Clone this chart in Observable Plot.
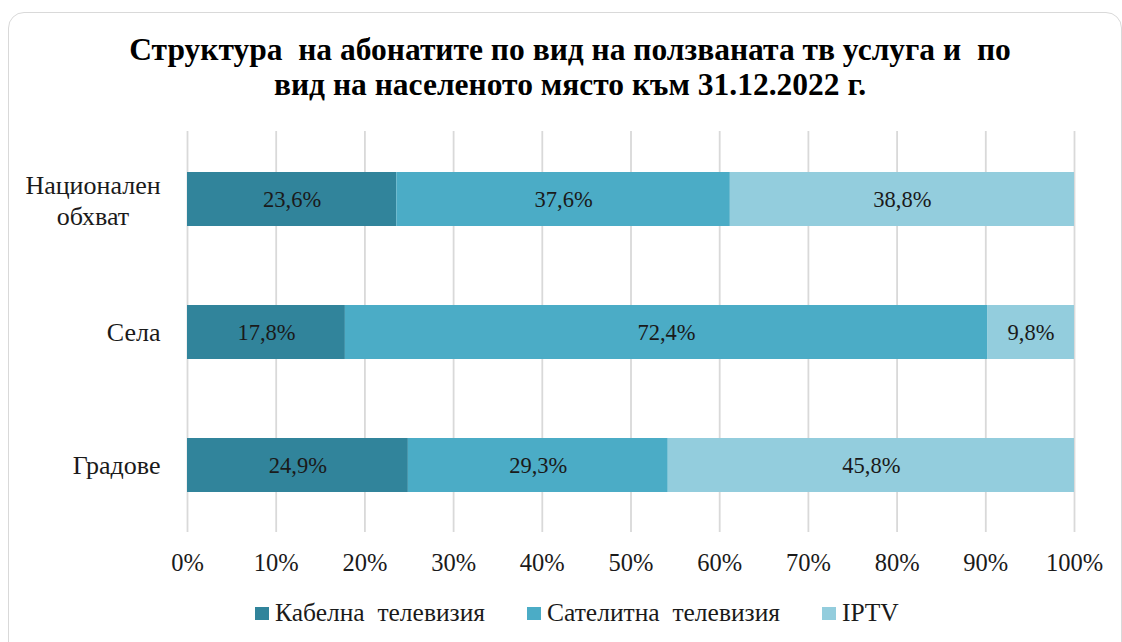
<!DOCTYPE html>
<html><head><meta charset="utf-8">
<script src="https://cdn.jsdelivr.net/npm/d3@7"></script>
<script src="https://cdn.jsdelivr.net/npm/@observablehq/plot@0.6"></script>
<style>
html,body{margin:0;padding:0;background:#fff;}
body{width:1122px;height:642px;overflow:hidden;position:relative;font-family:"Liberation Serif","Times New Roman",serif;color:#000;}
#frame{position:absolute;left:8px;top:12px;width:1114px;height:680px;border:1.5px solid #d9d9d9;border-radius:16px;box-sizing:border-box;}
#title{position:absolute;left:0;width:1140px;top:32px;text-align:center;font-weight:bold;font-size:31.5px;line-height:35px;white-space:pre;}
#chart{position:absolute;left:0;top:120px;}
#legend{position:absolute;top:598px;height:30px;left:255px;display:flex;align-items:center;font-size:25.5px;white-space:pre;color:#1a1a1a;}
.item{display:flex;align-items:center;margin-right:42px;}
.sw{width:14px;height:13px;margin-right:6px;}
</style></head>
<body>
<div id="frame"></div>
<div id="title"></div>
<div id="chart"></div>
<div id="legend"></div>
<script>
const titleLines = ["Структура  на абонатите по вид на ползваната тв услуга и  по", "вид на населеното място към 31.12.2022 г."];
const categories = ["Национален обхват", "Села", "Градове"];
const series = ["Кабелна  телевизия", "Сателитна  телевизия", "IPTV"];
const cable = [23.6, 17.8, 24.9];
const satellite = [37.6, 72.4, 29.3];
const iptv = [38.8, 9.8, 45.8];
const xTicks = [0, 10, 20, 30, 40, 50, 60, 70, 80, 90, 100];
const colors = ["#31849b", "#4bacc6", "#93cddd"];

document.getElementById("title").textContent = titleLines.join("\n");

const valuesBySeries = [cable, satellite, iptv];
const table = [];
series.forEach((s, si) => categories.forEach((c, ci) => table.push({category: c, series: s, value: valuesBySeries[si][ci]})));

const fmt = v => v.toFixed(1).replace(".", ",") + "%";
const FONT = "'Liberation Serif', 'Times New Roman', serif";

const chart = Plot.plot({
  width: 1122,
  height: 470,
  marginLeft: 187,
  marginRight: 48,
  marginTop: 11,
  marginBottom: 58,
  style: {fontFamily: FONT, fontSize: "24px", color: "#1a1a1a", background: "transparent"},
  x: {domain: [0, 100]},
  y: {domain: categories, paddingInner: 0.596, paddingOuter: 0.298},
  color: {domain: series, range: colors},
  marks: [
    Plot.gridX(xTicks, {stroke: "#d9d9d9", strokeOpacity: 1, strokeWidth: 1.8}),
    Plot.barX(table, Plot.stackX({x: "value", y: "category", fill: "series", order: series})),
    Plot.text(table, Plot.stackX({x: "value", y: "category", z: "series", order: series, text: d => fmt(d.value), fill: "#1a1a1a", fontSize: 22.5, fontFamily: FONT})),
    Plot.axisX(xTicks, {tickSize: 0, tickPadding: 21, tickFormat: d => d + "%", label: null, fontSize: 24.5, fontFamily: FONT}),
    Plot.axisY(["Села", "Градове"], {tickSize: 0, tickPadding: 27, label: null, fontSize: 26, fontFamily: FONT}),
    Plot.axisY(["Национален обхват"], {tickSize: 0, tickPadding: 94.5, textAnchor: "middle", tickFormat: d => d.replace(" ", "\n"), lineHeight: 1.19, label: null, fontSize: 26, fontFamily: FONT})
  ]
});
document.getElementById("chart").appendChild(chart);

const legend = document.getElementById("legend");
series.forEach((s, i) => {
  const it = document.createElement("div");
  it.className = "item";
  const sw = document.createElement("div");
  sw.className = "sw";
  sw.style.background = colors[i];
  const t = document.createElement("span");
  t.textContent = s;
  it.appendChild(sw); it.appendChild(t);
  legend.appendChild(it);
});
</script>
</body></html>
